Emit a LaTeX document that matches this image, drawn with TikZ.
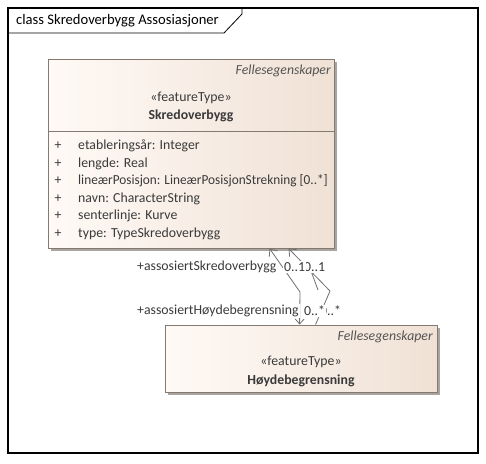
\documentclass[tikz,border=0pt]{standalone}
\usepackage{fontspec}
\usepackage{graphicx}
\setmainfont{Carlito}
\usetikzlibrary{arrows.meta}
\definecolor{txt}{HTML}{3A3A3A}
\definecolor{tagtxt}{HTML}{555555}
\definecolor{boxline}{HTML}{857A72}
\definecolor{boxL}{HTML}{FFFAF6}
\definecolor{boxR}{HTML}{F0E1D5}
\definecolor{shade}{HTML}{A8A4A0}
\definecolor{conn}{HTML}{707070}
\tikzset{
  classbox/.style={draw=boxline, line width=0.9pt, left color=boxL, right color=boxR, rectangle, inner sep=0pt},
  boxshadow/.style={fill=shade, draw=none},
  body/.style={font=\fontsize{13.8}{16}\selectfont, text=txt, inner sep=0pt},
  tagtext/.style={font=\fontsize{13.8}{16}\selectfont\itshape, text=tagtxt, inner sep=0pt, anchor=east},
  stereo/.style={font=\fontsize{13.8}{16}\selectfont, text=txt, inner sep=0pt},
  cname/.style={font=\fontsize{13.8}{16}\selectfont\bfseries, text=txt, inner sep=0pt},
  attr/.style={body, anchor=west},
  plus/.style={body},
  lbl/.style={font=\fontsize{13.8}{16}\selectfont, text=txt, fill=white, inner sep=1pt, anchor=west},
  assoc/.style={draw=conn, line width=0.8pt},
}
\begin{document}
\begin{tikzpicture}[x=1pt,y=-1pt]
\useasboundingbox (0,0) rectangle (486,463);
\fill[white] (0,0) rectangle (486,463);
% frame
\draw[black, line width=1.4pt] (8,8) rectangle (478,453);
\draw[black, line width=0.8pt] (8,33) -- (224,33) -- (242,14) -- (242,8);
\node[font=\fontsize{14.6}{17}\selectfont, text=black, anchor=west, inner sep=0pt] (title) at (16,20.5) {class Skredoverbygg Assosiasjoner};

% class 1 shadow + box
\fill[boxshadow] (51,62) rectangle (337,251);
\node[classbox, minimum width=286pt, minimum height=189pt] (c1) at (191,153.5) {};
\draw[boxline, line width=0.9pt] (c1.west |- 0,131) coordinate (s1l) -- (c1.east |- 0,131) coordinate (s1r);
\node[tagtext] (t1) at (331,71) {Fellesegenskaper};
\node[stereo] (st1) at (191,98) {«featureType»};
\node[cname] (n1) at (191,116) {Skredoverbygg};
\foreach \i/\y/\t in {1/146/{etableringsår: Integer},2/163.5/{lengde: Real},3/181/{\scalebox{0.962}[1]{lineærPosisjon: LineærPosisjonStrekning [0..*]}},4/198.5/{navn: CharacterString},5/216/{senterlinje: Kurve},6/233.5/{type: TypeSkredoverbygg}}{
  \node[plus] (p\i) at (58,\y) {+};
  \node[attr] (a\i) at (78,\y) {\t};
}

% class 2 shadow + box
\fill[boxshadow] (168,328) rectangle (440,395);
\node[classbox, minimum width=272pt, minimum height=67pt] (c2) at (301,358.5) {};
\node[tagtext] (t2) at (433,337) {Fellesegenskaper};
\node[stereo] (st2) at (301,362) {«featureType»};
\node[cname] (n2) at (301,381) {Høydebegrensning};

% connectors
\coordinate (bA) at (300,292);
\coordinate (bB) at (330,291);
\coordinate (xs) at (311,271);
\coordinate (xe) at (318,290);
\draw[assoc, {Straight Barb[length=6pt,width=10pt]}-{Straight Barb[length=5pt,width=9pt]}]
  ([xshift=222pt]c1.south west) -- (bA) -- ([xshift=135pt]c2.north west);
\draw[assoc, {Straight Barb[length=6pt,width=10pt]}-]
  ([xshift=241pt]c1.south west) -- (bB) -- ([xshift=151pt]c2.north west);
\draw[assoc] (xs) -- (xe);

% labels
\node[lbl] (m1b) at (303,267) {0..1};
\node[lbl] (m1a) at (283,267) {0..1};
\node[lbl] (r1) at (136,267) {+assosiertSkredoverbygg};
\node[lbl] (m2b) at (319,311) {0..*};
\node[lbl] (m2a) at (303,311) {0..*};
\node[lbl] (r2) at (136,311) {+assosiertHøydebegrensning};
\end{tikzpicture}
\end{document}
